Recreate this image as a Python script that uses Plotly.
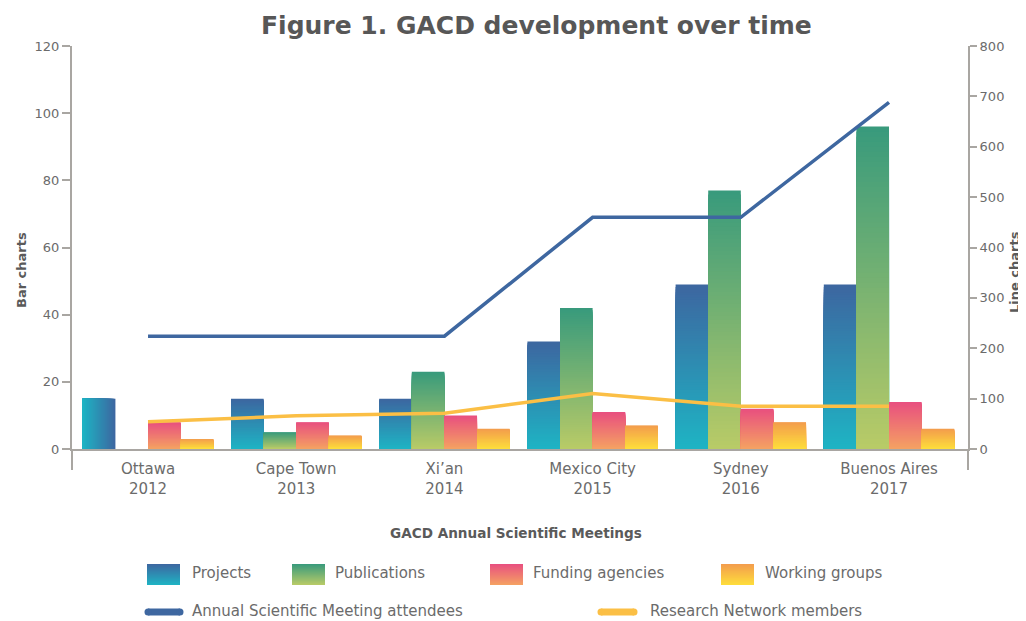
import plotly.graph_objects as go

# ---------------- data ----------------
meetings = ["Ottawa<br>2012", "Cape Town<br>2013", "Xi’an<br>2014",
            "Mexico City<br>2015", "Sydney<br>2016", "Buenos Aires<br>2017"]
projects = [15, 15, 15, 32, 49, 49]
publications = [0, 5, 23, 42, 77, 96]
funding_agencies = [8, 8, 10, 11, 12, 14]
working_groups = [3, 4, 6, 7, 8, 6]
asm_attendees = [224, 224, 224, 460, 460, 688]
network_members = [54, 66, 71, 110, 85, 85]
left_ticks = [0, 20, 40, 60, 80, 100, 120]
right_ticks = [0, 100, 200, 300, 400, 500, 600, 700, 800]

# ---------------- style ----------------
FONT = "DejaVu Sans"
GRAY = "#6b6b6b"
AXIS = "#a9a6a2"
PAGE_OFF = 8  # default body margin of the html page
# target positions in screen pixels
PLOT_L, PLOT_R, PLOT_T, PLOT_B = 72, 968, 46, 449
W, H = 1026 - PAGE_OFF, 621 - PAGE_OFF

def px_x(px):
    return (px - PLOT_L) / (PLOT_R - PLOT_L)

def px_y(py):
    return (PLOT_B - py) / (PLOT_B - PLOT_T)

def hex2rgb(h):
    h = h.lstrip("#")
    return tuple(int(h[i:i + 2], 16) for i in (0, 2, 4))

def lerp(c1, c2, t):
    a, b = hex2rgb(c1), hex2rgb(c2)
    return "rgb(%d,%d,%d)" % tuple(round(a[i] + (b[i] - a[i]) * t) for i in range(3))

series = [
    ("Projects", projects, "#3d66a0", "#1eb4c4", -0.44),
    ("Publications", publications, "#389a7c", "#b9cb67", -0.22),
    ("Funding agencies", funding_agencies, "#e84f80", "#f5a262", 0.0),
    ("Working groups", working_groups, "#f39c4d", "#fede3b", 0.22),
]
BAR_W = 0.22
N = 64  # gradient steps

fig = go.Figure()

for name, vals, ctop, cbot, off in series:
    # the first Projects bar in the original is shaded left-to-right
    horiz = [name == "Projects" and i == 0 for i in range(len(vals))]
    for i in range(N):
        frac = (N - i) / N
        yv = [None if horiz[k] else v * frac for k, v in enumerate(vals)]
        fig.add_trace(go.Bar(
            x=meetings, y=yv, width=BAR_W, offset=off,
            marker=dict(color=lerp(ctop, cbot, (i + 0.5) / N), line=dict(width=0)),
            name=name, showlegend=False,
            hoverinfo="skip" if i else "x+y+name",
        ))
    if any(horiz):
        for j in range(N // 2):
            M = N // 2
            wfrac = (M - j) / M
            xs = [m for k, m in enumerate(meetings) if horiz[k]]
            ys = [v for k, v in enumerate(vals) if horiz[k]]
            fig.add_trace(go.Bar(
                x=xs, y=ys, width=BAR_W * wfrac, offset=off,
                marker=dict(color=lerp(cbot, ctop, (M - j - 0.5) / M), line=dict(width=0)),
                name=name, showlegend=False, hoverinfo="skip",
            ))

fig.add_trace(go.Scatter(x=meetings, y=asm_attendees, yaxis="y2", mode="lines",
                         line=dict(color="#3e67a0", width=3.5),
                         name="Annual Scientific Meeting attendees", showlegend=False))
fig.add_trace(go.Scatter(x=meetings, y=network_members, yaxis="y2", mode="lines",
                         line=dict(color="#fbbf45", width=3.5),
                         name="Research Network members", showlegend=False))

shapes = []
# axis extensions below the zero line
for xp in (0, 1):
    shapes.append(dict(type="line", xref="paper", yref="paper", x0=xp, x1=xp,
                       y0=0, y1=px_y(470), line=dict(color=AXIS, width=2)))

annotations = []
# manual legend, row 1 (gradient swatches)
legend_row1 = [("Projects", 147, 190), ("Publications", 292, 333),
               ("Funding agencies", 490, 531), ("Working groups", 721, 763)]
for (label, sx, tx), (_, _, ctop, cbot, _) in zip(legend_row1, series):
    top, bot = 564, 585
    ns = 21
    for s in range(ns):
        y0 = top + (bot - top) * s / ns
        shapes.append(dict(type="rect", xref="paper", yref="paper",
                           x0=px_x(sx), x1=px_x(sx + 33), y0=px_y(bot), y1=px_y(y0),
                           fillcolor=lerp(ctop, cbot, (s + 0.5) / ns), line=dict(width=0)))
    annotations.append(dict(text=label, xref="paper", yref="paper", x=px_x(tx), y=px_y(573),
                            xanchor="left", yanchor="middle", showarrow=False,
                            font=dict(family=FONT, size=15, color=GRAY)))
# row 2 (lines)
legend_row2 = [("Annual Scientific Meeting attendees", "#3e67a0", 145, 183, 190),
               ("Research Network members", "#fbbf45", 598, 637, 648)]
for label, col, x0, x1, tx in legend_row2:
    shapes.append(dict(type="line", xref="paper", yref="paper", x0=px_x(x0 + 3), x1=px_x(x1 - 3),
                       y0=px_y(612), y1=px_y(612), line=dict(color=col, width=7)))
    for cx in (x0 + 3, x1 - 3):
        shapes.append(dict(type="circle", xref="paper", yref="paper",
                           x0=px_x(cx - 3.5), x1=px_x(cx + 3.5), y0=px_y(615.5), y1=px_y(608.5),
                           fillcolor=col, line=dict(width=0)))
    annotations.append(dict(text=label, xref="paper", yref="paper", x=px_x(tx), y=px_y(611),
                            xanchor="left", yanchor="middle", showarrow=False,
                            font=dict(family=FONT, size=15, color=GRAY)))

# titles
annotations.append(dict(text="<b>Figure 1. GACD development over time</b>", xref="paper", yref="paper",
                        x=px_x(536), y=px_y(26), xanchor="center", yanchor="middle", showarrow=False,
                        font=dict(family=FONT, size=25, color="#575757")))
annotations.append(dict(text="<b>GACD Annual Scientific Meetings</b>", xref="paper", yref="paper",
                        x=px_x(516), y=px_y(533), xanchor="center", yanchor="middle", showarrow=False,
                        font=dict(family=FONT, size=13.6, color="#5a5a5a")))
annotations.append(dict(text="<b>Bar charts</b>", xref="paper", yref="paper", textangle=-90,
                        x=px_x(21), y=px_y(270), xanchor="center", yanchor="middle", showarrow=False,
                        font=dict(family=FONT, size=13, color="#5a5a5a")))
annotations.append(dict(text="<b>Line charts</b>", xref="paper", yref="paper", textangle=-90,
                        x=px_x(1014), y=px_y(272), xanchor="center", yanchor="middle", showarrow=False,
                        font=dict(family=FONT, size=13, color="#5a5a5a")))

fig.update_layout(
    width=W, height=H,
    margin=dict(l=PLOT_L - PAGE_OFF, r=1026 - PLOT_R, t=PLOT_T - PAGE_OFF, b=621 - PLOT_B),
    paper_bgcolor="white", plot_bgcolor="white",
    barmode="overlay", showlegend=False,
    font=dict(family=FONT, color=GRAY),
    xaxis=dict(type="category", range=[-0.513, 5.533], showgrid=False, zeroline=False,
               showline=True, linecolor=AXIS, linewidth=2, ticks="",
               tickfont=dict(family=FONT, size=15, color=GRAY), ticklabelstandoff=5),
    yaxis=dict(range=[0, 120], tickvals=left_ticks, showgrid=False, zeroline=False,
               showline=True, linecolor=AXIS, linewidth=2, ticks="outside", ticklen=8,
               tickwidth=1.5, tickcolor=AXIS, tickfont=dict(family=FONT, size=13, color=GRAY)),
    yaxis2=dict(range=[0, 800], tickvals=right_ticks, overlaying="y", side="right",
                showgrid=False, zeroline=False, showline=True, linecolor=AXIS, linewidth=2,
                ticks="outside", ticklen=7, tickwidth=1.5, tickcolor=AXIS,
                tickfont=dict(family=FONT, size=13, color=GRAY)),
    shapes=shapes, annotations=annotations,
)

fig.write_html("out.html")
